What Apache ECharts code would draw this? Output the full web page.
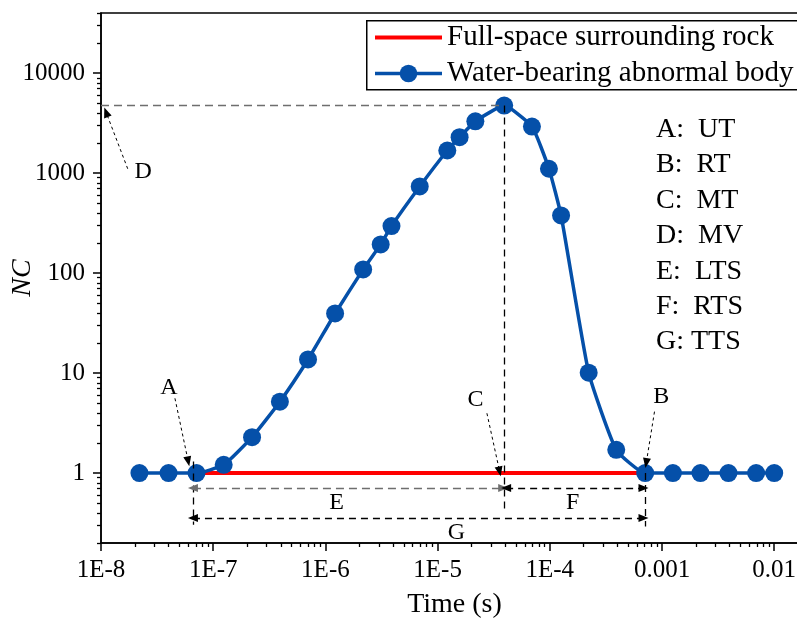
<!DOCTYPE html>
<html>
<head>
<meta charset="utf-8">
<script src="https://cdn.jsdelivr.net/npm/echarts@6/dist/echarts.min.js"></script>
<style>
  html, body { margin: 0; padding: 0; background: #fff; }
  #chart { width: 797px; height: 622px; }
</style>
</head>
<body>
<div id="chart"></div>
<script>
// sampled times (s)
const timeS = [2.2e-8, 4.0e-8, 7.1e-8, 1.24e-7, 2.22e-7, 3.93e-7, 7.0e-7, 1.22e-6, 2.17e-6, 3.11e-6,
  3.88e-6, 6.93e-6, 1.22e-5, 1.57e-5, 2.17e-5, 3.92e-5, 6.93e-5, 9.82e-5, 1.26e-4, 2.22e-4,
  3.91e-4, 7.08e-4, 1.25e-3, 2.2e-3, 3.91e-3, 6.9e-3, 1.0e-2];
// NC, water-bearing abnormal body
const ncWater = [1, 1, 1, 1.21, 2.29, 5.18, 13.7, 39.5, 109, 194,
  296, 737, 1686, 2288, 3303, 4741, 2925, 1107, 378, 10.1,
  1.71, 1, 1, 1, 1, 1, 1];
// NC, full-space surrounding rock
const rockTime = [7.1e-8, 7.08e-4];
const ncRock = [1, 1];

const xTicks = [1e-8, 1e-7, 1e-6, 1e-5, 1e-4, 1e-3, 1e-2];
const xTickLabels = ['1E-8', '1E-7', '1E-6', '1E-5', '1E-4', '0.001', '0.01'];
const yTicks = [1, 10, 100, 1000, 10000];
const yTickLabels = ['1', '10', '100', '1000', '10000'];
const notes = ['A:  UT', 'B:  RT', 'C:  MT', 'D:  MV', 'E:  LTS', 'F:  RTS', 'G: TTS'];

const xMin = 1e-8, xMax = 0.02;
const yMin = 0.2, yMax = 40000;
const SERIF = '"Liberation Serif", "Times New Roman", serif';
const BLUE = '#0550a9';
const RED = '#ff0000';

// minor ticks at 2..9 of every decade
function minors(lo, hi) {
  const out = [];
  for (let e = Math.floor(Math.log10(lo)); e <= Math.ceil(Math.log10(hi)); e++) {
    for (let m = 2; m <= 9; m++) {
      const v = m * Math.pow(10, e);
      if (v >= lo * 0.999 && v <= hi * 1.001) out.push(v);
    }
  }
  return out;
}
function pick(ticks, labels) {
  return function (v) {
    let best = 0;
    ticks.forEach(function (t, i) {
      if (Math.abs(Math.log10(v) - Math.log10(t)) < Math.abs(Math.log10(v) - Math.log10(ticks[best]))) best = i;
    });
    return labels[best];
  };
}

const pairs = (xs, ys) => xs.map((x, i) => [x, ys[i]]);

const axisFont = { color: '#000', fontSize: 25, fontFamily: SERIF };

function seg(p, q, style, s0, s1) {
  return [
    { coord: p, symbol: s0 || 'none', symbolSize: [8, 10], lineStyle: style },
    { coord: q, symbol: s1 || 'none', symbolSize: [8, 10], lineStyle: style }
  ];
}
const grayDash = { color: '#6e6e6e', width: 1.3, type: [8, 5] };
const blackDash = { color: '#000', width: 1.3, type: [7, 5] };
const fineDash = { color: '#000', width: 1, type: [3, 3] };

const chart = echarts.init(document.getElementById('chart'));
chart.setOption({
  animation: false,
  backgroundColor: '#fff',
  grid: {
    left: 101, top: 13, right: -11, bottom: 79,
    outerBoundsMode: 'none', containLabel: false,
    show: true, borderColor: '#000', borderWidth: 1.5
  },
  legend: {
    data: [
      { name: 'Full-space surrounding rock', itemStyle: { color: 'rgba(0,0,0,0)', borderWidth: 0 }, lineStyle: { width: 4 } },
      { name: 'Water-bearing abnormal body', lineStyle: { width: 3.5 } }
    ],
    orient: 'vertical', left: 366, top: 20,
    itemWidth: 67, itemHeight: 22, itemGap: 7,
    padding: [3, 10, 3, 7],
    borderWidth: 0, backgroundColor: 'transparent',
    textStyle: { color: '#000', fontSize: 29, fontFamily: SERIF },
    selectedMode: false,
    z: 6
  },
  xAxis: [{
    type: 'log', min: xMin, max: xMax, position: 'bottom',
    axisLine: { show: true, onZero: false, lineStyle: { color: '#000', width: 1.5 } },
    axisTick: { show: true, inside: false, length: 8, lineStyle: { color: '#000', width: 1.5 }, customValues: xTicks },
    axisLabel: { show: true, customValues: xTicks, formatter: pick(xTicks, xTickLabels), margin: 15, ...axisFont },
    splitLine: { show: false },
    name: 'Time (s)', nameLocation: 'middle', nameGap: 48, nameMoveOverlap: false,
    nameTextStyle: { color: '#000', fontSize: 28, fontFamily: SERIF }
  }, {
    type: 'log', min: xMin, max: xMax, position: 'bottom',
    axisLine: { show: false },
    axisTick: { show: true, inside: false, length: 4, lineStyle: { color: '#000', width: 1.3 }, customValues: minors(xMin, xMax) },
    axisLabel: { show: false },
    splitLine: { show: false }
  }],
  yAxis: [{
    type: 'log', min: yMin, max: yMax, position: 'left',
    axisLine: { show: true, onZero: false, lineStyle: { color: '#000', width: 1.5 } },
    axisTick: { show: true, inside: false, length: 8, lineStyle: { color: '#000', width: 1.5 }, customValues: yTicks },
    axisLabel: { show: true, customValues: yTicks, formatter: pick(yTicks, yTickLabels), margin: 16, ...axisFont },
    splitLine: { show: false },
    name: 'NC', nameLocation: 'middle', nameGap: 64, nameMoveOverlap: false,
    nameTextStyle: { color: '#000', fontSize: 28, fontStyle: 'italic', fontFamily: SERIF }
  }, {
    type: 'log', min: yMin, max: yMax, position: 'left',
    axisLine: { show: false },
    axisTick: { show: true, inside: false, length: 4, lineStyle: { color: '#000', width: 1.3 }, customValues: minors(yMin, yMax) },
    axisLabel: { show: false },
    splitLine: { show: false }
  }],
  series: [{
    name: 'Full-space surrounding rock', type: 'line',
    data: pairs(rockTime, ncRock),
    symbol: 'none', color: RED,
    lineStyle: { color: RED, width: 4 },
    z: 2
  }, {
    name: 'Water-bearing abnormal body', type: 'line',
    data: pairs(timeS, ncWater),
    smooth: 0.15,
    symbol: 'circle', symbolSize: 18, color: BLUE,
    itemStyle: { color: BLUE },
    lineStyle: { color: BLUE, width: 3.5 },
    z: 3
  }, {
    name: 'notes', type: 'line', data: [], z: 4,
    markLine: {
      silent: true, animation: false,
      symbol: ['none', 'none'],
      label: { show: false },
      emphasis: { disabled: true },
      data: [
        seg([xMin, 4741], [3.92e-5, 4741], grayDash),
        seg([3.92e-5, 4741], [3.92e-5, 0.43], blackDash),
        seg([6.6e-8, 1.31], [6.6e-8, 0.305], blackDash),
        seg([7.08e-4, 1.0], [7.08e-4, 0.293], blackDash),
        seg([6.6e-8, 0.708], [3.84e-5, 0.708], grayDash, 'triangle', 'triangle'),
        seg([4.08e-5, 0.708], [6.84e-4, 0.708], blackDash, 'triangle', 'triangle'),
        seg([6.6e-8, 0.356], [6.84e-4, 0.356], blackDash, 'triangle', 'triangle'),
        seg([1.73e-8, 1107], [1.11e-8, 4064], fineDash, 'none', 'triangle'),
        seg([4.56e-8, 5.6], [5.99e-8, 1.31], fineDash, 'none', 'triangle'),
        seg([2.75e-5, 3.97], [3.57e-5, 1.04], fineDash, 'none', 'triangle'),
        seg([8.57e-4, 4.12], [7.23e-4, 1.26], fineDash, 'none', 'triangle')
      ]
    },
    markPoint: {
      silent: true, animation: false,
      symbol: 'circle', symbolSize: 1,
      itemStyle: { color: 'rgba(0,0,0,0)' },
      label: { show: true, position: 'inside', formatter: '{b}', color: '#000', fontSize: 24, fontFamily: SERIF },
      data: [
        { name: 'D', coord: [2.37e-8, 1023] },
        { name: 'A', coord: [4.04e-8, 7.2] },
        { name: 'C', coord: [2.18e-5, 5.39] },
        { name: 'B', coord: [9.84e-4, 5.81] },
        { name: 'E', coord: [1.26e-6, 0.502] },
        { name: 'F', coord: [1.60e-4, 0.505] },
        { name: 'G', coord: [1.47e-5, 0.255] }
      ]
    }
  }],
  graphic: [{
    // legend frame, runs off the right edge like the original
    type: 'rect', left: 366, top: 20, z: 5,
    shape: { width: 500, height: 69 },
    style: { fill: '#fff', stroke: '#000', lineWidth: 1.5 }
  }, {
    type: 'text', left: 656, top: 112,
    style: { text: notes.join('\n'), fill: '#000', font: '28px ' + SERIF, lineHeight: 35.4 }
  }]
});
</script>
</body>
</html>
